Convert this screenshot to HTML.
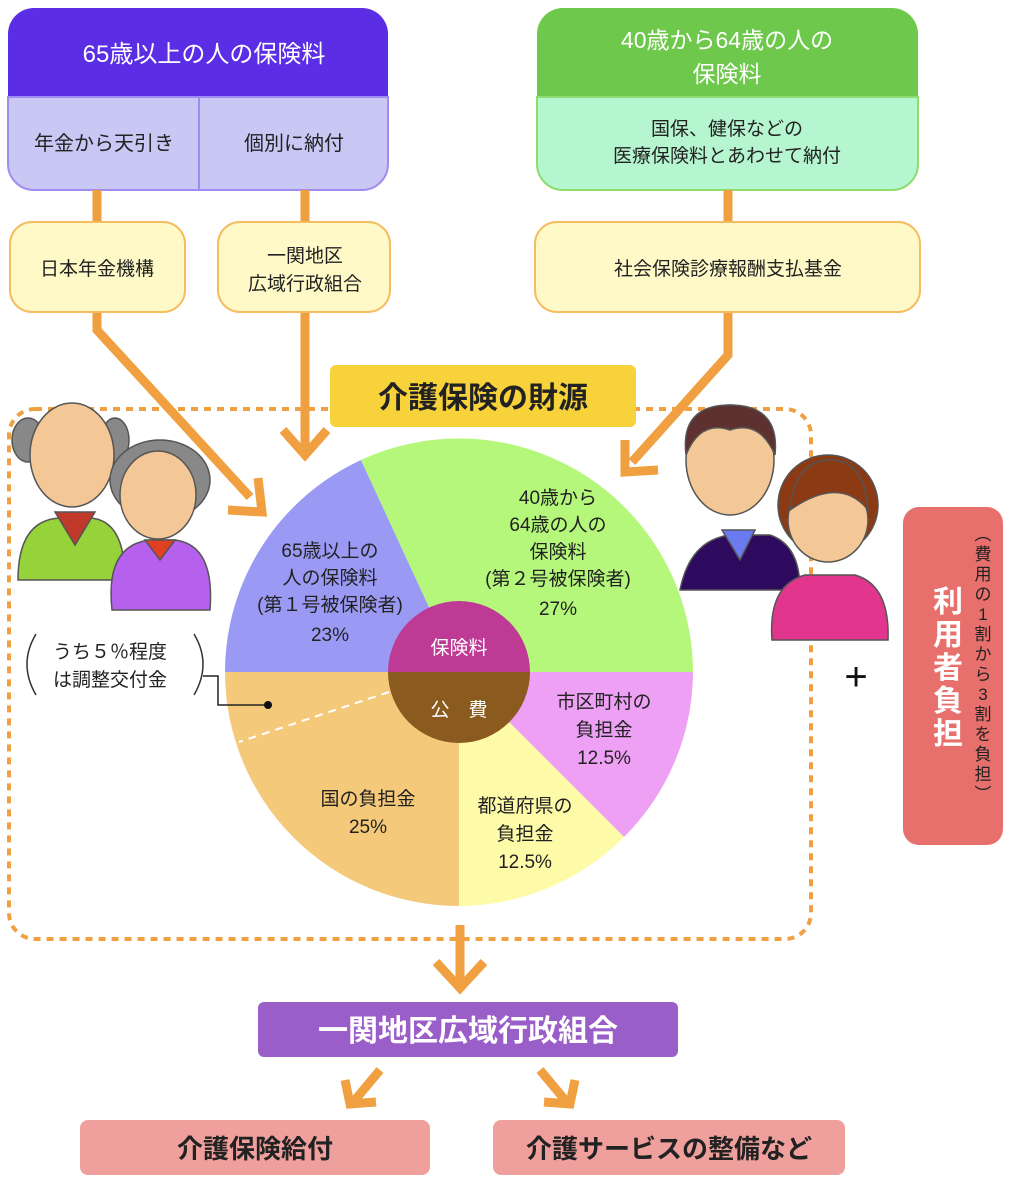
<!DOCTYPE html>
<html><head><meta charset="utf-8"><style>
html,body{margin:0;padding:0;background:#fff}
svg{display:block}
text{font-family:"Liberation Sans","Noto Sans CJK JP",sans-serif}
</style></head><body>
<svg width="1010" height="1182" viewBox="0 0 1010 1182" xmlns="http://www.w3.org/2000/svg">
<!-- top-left box -->
<path d="M8,34 a26,26 0 0 1 26,-26 H362 a26,26 0 0 1 26,26 V97 H8Z" fill="#5b2ee6"/>
<path d="M8,97 H388 V164 a26,26 0 0 1 -26,26 H34 a26,26 0 0 1 -26,-26Z" fill="#c9c8f4" stroke="#a08cf0" stroke-width="2"/>
<line x1="199" y1="97" x2="199" y2="190" stroke="#a08cf0" stroke-width="2"/>
<text x="204" y="62" font-size="24" fill="#fff" text-anchor="middle">65歳以上の人の保険料</text>
<text x="104" y="150" font-size="20" fill="#222" text-anchor="middle">年金から天引き</text>
<text x="294" y="150" font-size="20" fill="#222" text-anchor="middle">個別に納付</text>
<!-- top-right box -->
<path d="M537,34 a26,26 0 0 1 26,-26 H892 a26,26 0 0 1 26,26 V97 H537Z" fill="#6ec84c"/>
<path d="M537,97 H918 V164 a26,26 0 0 1 -26,26 H563 a26,26 0 0 1 -26,-26Z" fill="#b5f5cf" stroke="#8ddc6e" stroke-width="2"/>
<text x="727" y="48" font-size="23" fill="#fff" text-anchor="middle">40歳から64歳の人の</text>
<text x="727" y="82" font-size="23" fill="#fff" text-anchor="middle">保険料</text>
<text x="727" y="135" font-size="19" fill="#222" text-anchor="middle">国保、健保などの</text>
<text x="727" y="162" font-size="19" fill="#222" text-anchor="middle">医療保険料とあわせて納付</text>
<!-- connectors -->
<g stroke="#f0a040" stroke-width="9" fill="none">
<line x1="97" y1="190" x2="97" y2="222"/>
<line x1="305" y1="190" x2="305" y2="222"/>
<line x1="728" y1="190" x2="728" y2="222"/>
<polyline points="97,312 97,330 250,497"/>
<polyline points="305,312 305,448"/>
<polyline points="728,312 728,355 632,462"/>
<polyline points="283,430 305,455 327,430"/>
<polyline points="228,510 262,512 258,478"/>
<polyline points="625,440 625,472 658,470"/>
<line x1="460" y1="925" x2="460" y2="985"/>
<polyline points="436,962 460,988 484,962"/>
<line x1="380" y1="1070" x2="355" y2="1100"/>
<polyline points="345,1080 350,1104 376,1102"/>
<line x1="540" y1="1070" x2="565" y2="1100"/>
<polyline points="575,1080 570,1104 544,1102"/>
</g>
<!-- cream boxes -->
<g fill="#fff9c8" stroke="#f5bc60" stroke-width="2">
<rect x="10" y="222" width="175" height="90" rx="22"/>
<rect x="218" y="222" width="172" height="90" rx="22"/>
<rect x="535" y="222" width="385" height="90" rx="22"/>
</g>
<text x="97" y="275" font-size="19" fill="#222" text-anchor="middle">日本年金機構</text>
<text x="305" y="262" font-size="19" fill="#222" text-anchor="middle">一関地区</text>
<text x="305" y="290" font-size="19" fill="#222" text-anchor="middle">広域行政組合</text>
<text x="728" y="275" font-size="19" fill="#222" text-anchor="middle">社会保険診療報酬支払基金</text>
<!-- dashed area -->
<rect x="9" y="409" width="802" height="530" rx="26" fill="none" stroke="#f0a040" stroke-width="4" stroke-dasharray="7,6"/>
<!-- title -->
<rect x="330" y="365" width="306" height="62" rx="6" fill="#f7d23a"/>
<text x="483" y="408" font-size="30" font-weight="bold" fill="#222" text-anchor="middle">介護保険の財源</text>
<!-- pie -->
<g transform="translate(459,672)">
<path d="M0,0 L-234,0 A234,234 0 0 1 -98,-212 Z" fill="#9a9af5"/>
<path d="M0,0 L-98,-212 A234,234 0 0 1 234,0 Z" fill="#b4f77a"/>
<path d="M0,0 L234,0 A234,234 0 0 1 165,165 Z" fill="#eea0f5"/>
<path d="M0,0 L165,165 A234,234 0 0 1 0,234 Z" fill="#fdfba8"/>
<path d="M0,0 L0,234 A234,234 0 0 1 -234,0 Z" fill="#f5c97a"/>
<line x1="-70" y1="20" x2="-220" y2="70" stroke="#fff" stroke-width="2" stroke-dasharray="8,6"/>
<path d="M-71,0 A71,71 0 0 1 71,0Z" fill="#bd3b95"/>
<path d="M-71,0 A71,71 0 0 0 71,0Z" fill="#8a5a1f"/>
<text x="0" y="-18" font-size="19" fill="#fff" text-anchor="middle">保険料</text>
<text x="0" y="44" font-size="19" fill="#fff" text-anchor="middle">公　費</text>
</g>
<g font-size="19" fill="#222" text-anchor="middle">
<text x="330" y="557">65歳以上の</text><text x="330" y="584">人の保険料</text><text x="330" y="611">(第１号被保険者)</text><text x="330" y="641">23%</text>
<text x="558" y="504">40歳から</text><text x="558" y="531">64歳の人の</text><text x="558" y="558">保険料</text><text x="558" y="585">(第２号被保険者)</text><text x="558" y="615">27%</text>
<text x="604" y="708">市区町村の</text><text x="604" y="736">負担金</text><text x="604" y="764">12.5%</text>
<text x="525" y="812">都道府県の</text><text x="525" y="840">負担金</text><text x="525" y="868">12.5%</text>
<text x="368" y="805">国の負担金</text><text x="368" y="833">25%</text>
</g>
<!-- note -->
<text x="110" y="658" font-size="19" fill="#222" text-anchor="middle">うち５％程度</text>
<text x="110" y="686" font-size="19" fill="#222" text-anchor="middle">は調整交付金</text>
<path d="M36,634 Q18,664 36,695" fill="none" stroke="#333" stroke-width="1.5"/>
<path d="M194,634 Q212,664 194,695" fill="none" stroke="#333" stroke-width="1.5"/>
<polyline points="203,676 218,676 218,705 268,705" fill="none" stroke="#222" stroke-width="1.5"/>
<circle cx="268" cy="705" r="4" fill="#111"/>
<!-- elderly -->
<g stroke="#555" stroke-width="1.5">
<path d="M18,580 Q18,520 60,518 L90,518 Q125,520 125,580 Z" fill="#96d23a"/>
<path d="M55,512 L95,512 L75,545Z" fill="#c0392b"/>
<ellipse cx="28" cy="440" rx="16" ry="22" fill="#888"/>
<ellipse cx="115" cy="440" rx="14" ry="22" fill="#888"/>
<ellipse cx="72" cy="455" rx="42" ry="52" fill="#f3c896"/>
<path d="M112,610 Q105,545 150,540 L175,540 Q215,545 210,610 Z" fill="#b660ee"/>
<ellipse cx="160" cy="480" rx="50" ry="40" fill="#888"/>
<ellipse cx="158" cy="495" rx="38" ry="44" fill="#f3c896"/>
<path d="M145,540 L175,540 L160,560Z" fill="#e04020"/>
</g>
<!-- young -->
<g stroke="#555" stroke-width="1.5">
<path d="M680,590 Q690,540 730,535 L770,535 Q800,545 800,590 Z" fill="#2e0a5e"/>
<path d="M722,530 L755,530 L740,560Z" fill="#6a7af0"/>
<ellipse cx="730" cy="460" rx="44" ry="55" fill="#f3c896"/>
<path d="M686,455 Q680,405 730,405 Q780,405 775,455 Q760,420 730,430 Q700,420 686,455Z" fill="#5e3030"/>
<path d="M772,640 Q768,585 805,575 L855,575 Q890,585 888,640 Z" fill="#e2368e"/>
<ellipse cx="828" cy="505" rx="50" ry="50" fill="#8b3a14"/>
<ellipse cx="828" cy="520" rx="40" ry="42" fill="#f3c896"/>
<path d="M790,510 Q795,460 830,460 Q865,460 868,510 Q840,475 790,510Z" fill="#8b3a14"/>
</g>
<text x="856" y="690" font-size="40" fill="#111" text-anchor="middle">+</text>
<!-- user burden -->
<rect x="903" y="507" width="100" height="338" rx="16" fill="#e8706c"/>
<text x="948" y="600" font-size="30" font-weight="bold" fill="#fff" text-anchor="middle">
<tspan x="948" y="612">利</tspan><tspan x="948" y="645">用</tspan><tspan x="948" y="678">者</tspan><tspan x="948" y="711">負</tspan><tspan x="948" y="744">担</tspan></text>
<g font-size="17" fill="#222" text-anchor="middle">
<text x="983" y="540">︵</text><text x="983" y="560">費</text><text x="983" y="580">用</text><text x="983" y="600">の</text><text x="983" y="620">1</text><text x="983" y="640">割</text><text x="983" y="660">か</text><text x="983" y="680">ら</text><text x="983" y="700">3</text><text x="983" y="720">割</text><text x="983" y="740">を</text><text x="983" y="760">負</text><text x="983" y="780">担</text><text x="983" y="800">︶</text>
</g>
<!-- bottom -->
<rect x="258" y="1002" width="420" height="55" rx="6" fill="#9a5ec8"/>
<text x="468" y="1041" font-size="30" font-weight="bold" fill="#fff" text-anchor="middle">一関地区広域行政組合</text>
<rect x="80" y="1120" width="350" height="55" rx="8" fill="#f0a09c"/>
<text x="255" y="1158" font-size="26" font-weight="bold" fill="#222" text-anchor="middle">介護保険給付</text>
<rect x="493" y="1120" width="352" height="55" rx="8" fill="#f0a09c"/>
<text x="669" y="1158" font-size="26" font-weight="bold" fill="#222" text-anchor="middle">介護サービスの整備など</text>
</svg>
</body></html>
